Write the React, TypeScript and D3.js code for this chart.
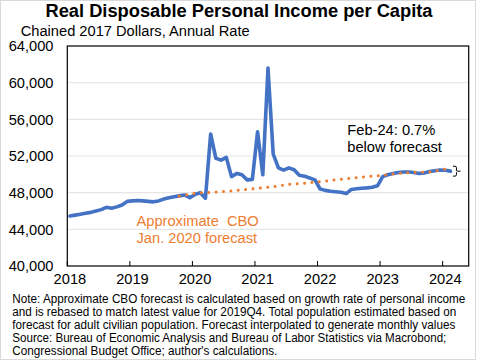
import React from "react";
import * as d3 from "d3";

// ---- data ----
const title = "Real Disposable Personal Income per Capita";
const subtitle = "Chained 2017 Dollars, Annual Rate";
const yTicks = [40000, 44000, 48000, 52000, 56000, 60000, 64000];
const yearLabels = ["2018", "2019", "2020", "2021", "2022", "2023", "2024"];

// monthly actual values, Jan 2018 .. Feb 2024
const actualValues = [
  45450, 45550, 45650, 45750, 45850, 46000, 46150, 46400, 46300, 46450, 46650, 47050,
  47100, 47150, 47100, 47050, 47000, 47100, 47300, 47450, 47550, 47650, 47750, 47450,
  47800, 48000, 47400, 54400, 51750, 51550, 51850, 49750, 50100, 49950, 49400, 49450,
  54650, 49950, 61600, 52200, 50700, 50450, 50700, 50500, 49900, 49800, 49600, 49400,
  48400, 48250, 48150, 48100, 48050, 47900, 48350, 48420, 48480, 48520, 48600, 48750,
  49750, 49950, 50080, 50200, 50250, 50250, 50200, 50100, 50150, 50300, 50400, 50480,
  50450, 50350,
];

// approximate CBO Jan. 2020 forecast (read at these months)
const forecastMonths = [
  "2019-10", "2020-01", "2020-04", "2020-07", "2020-10", "2021-01", "2021-04", "2021-07",
  "2021-10", "2022-01", "2022-04", "2022-07", "2022-10", "2023-01", "2023-04", "2023-07",
  "2023-10", "2024-01", "2024-02",
];
const forecastValues = [
  47600, 47950, 48020, 48140, 48300, 48470, 48650, 48900,
  49030, 49200, 49400, 49580, 49750, 49880, 50100, 50210,
  50260, 50560, 50720,
];

const forecastLabel = ["Approximate  CBO", "Jan. 2020 forecast"];
const annotation = ["Feb-24: 0.7%", "below forecast"];
const noteLines = [
  "Note: Approximate CBO forecast is calculated based on growth rate of personal income",
  "and is rebased to match latest value for 2019Q4. Total population estimated based on",
  "forecast for adult civilian population. Forecast interpolated to generate monthly values",
  "Source: Bureau of Economic Analysis and Bureau of Labor Statistics via Macrobond;",
  "Congressional Budget Office; author's calculations.",
];

// ---- layout ----
const W = 480;
const H = 363;
const plot = { left: 67.3, right: 468.7, top: 46, bottom: 266 };
const noteWidths = [453, 444, 443, 434, 265];
const FONT = "'Liberation Sans', Arial, sans-serif";
const BLUE = "#4472C4";
const ORANGE = "#ED7D31";

const fmtKey = d3.timeFormat("%Y-%m");
const months = d3.timeMonth.range(new Date(2018, 0, 1), new Date(2024, 5, 1)).map(fmtKey);

export default function App() {
  const x = d3.scaleBand<string>().domain(months).range([plot.left, plot.right]).padding(0);
  const bw = x.bandwidth();
  const cx = (k: string) => (x(k) as number) + bw / 2;
  const y = d3.scaleLinear().domain([40000, 64000]).range([plot.bottom, plot.top]);

  const actual = actualValues.map((v, i) => ({ k: months[i], v }));
  const forecast = forecastValues.map((v, i) => ({ k: forecastMonths[i], v }));

  const line = d3
    .line<{ k: string; v: number }>()
    .x((d) => cx(d.k))
    .y((d) => y(d.v));

  const yearTicks = yearLabels.map((yr) => `${yr}-01`);
  const lastA = actual[actual.length - 1];
  const lastF = forecast[forecast.length - 1];
  const bx = cx(lastA.k) + 2.5;
  const bTop = y(lastF.v) - 1.5;
  const bBot = y(lastA.v) + 5;

  return (
    <svg
      width={W}
      height={H}
      style={{ position: "absolute", left: 0, top: 0, background: "#fff" }}
      fontFamily={FONT}
    >
      <rect x={0.5} y={0.5} width={475} height={359} fill="#fff" stroke="#d9d9d9" />
      <text x={239} y={17.3} textAnchor="middle" fontSize={18.3} fontWeight="bold" fill="#000">
        {title}
      </text>
      <text x={20.7} y={35.7} fontSize={14.67} fill="#000">
        {subtitle}
      </text>

      {/* gridlines */}
      {yTicks.slice(1, -1).map((t) => (
        <line key={t} x1={plot.left} x2={plot.right} y1={y(t)} y2={y(t)} stroke="#e6e6e6" strokeWidth={1.2} />
      ))}
      {/* y labels */}
      {yTicks.map((t) => (
        <text key={t} x={53.5} y={y(t) + 5.2} textAnchor="end" fontSize={14.67} fill="#000">
          {d3.format(",")(t)}
        </text>
      ))}
      {/* x ticks & labels */}
      {yearTicks.map((k, i) => (
        <g key={k}>
          <line x1={x(k)} x2={x(k)} y1={plot.bottom} y2={plot.bottom - 5} stroke="#000" strokeWidth={1} />
          <text x={cx(k)} y={284} textAnchor="middle" fontSize={14.67} fill="#000">
            {yearLabels[i]}
          </text>
        </g>
      ))}

      {/* actual */}
      <path d={line(actual) || ""} fill="none" stroke={BLUE} strokeWidth={3.6} strokeLinejoin="round" strokeLinecap="round" />
      {/* forecast */}
      <path
        d={line(forecast) || ""}
        fill="none"
        stroke={ORANGE}
        strokeWidth={3}
        strokeDasharray="0.01 7.4"
        strokeLinecap="round"
      />

      {/* frame */}
      <rect
        x={plot.left}
        y={plot.top}
        width={plot.right - plot.left}
        height={plot.bottom - plot.top}
        fill="none"
        stroke="#000"
        strokeWidth={1.2}
      />

      {/* bracket */}
      <path
        d={`M${bx},${bTop} h2 q1.5,0 1.5,1.5 V${(bTop + bBot) / 2 - 1} q0,1 1,1 h3 M${bx + 3.5},${(bTop + bBot) / 2 + 1} V${bBot - 1.5} q0,1.5 -1.5,1.5 h-2 M${bx + 4.5},${(bTop + bBot) / 2} `}
        fill="none"
        stroke="#000"
        strokeWidth={1}
      />

      {/* annotation */}
      {annotation.map((s, i) => (
        <text key={s} x={347.3} y={135 + i * 16.7} fontSize={14.67} fill="#000">
          {s}
        </text>
      ))}
      {forecastLabel.map((s, i) => (
        <text key={s} x={136.5} y={226 + i * 16.7} fontSize={14.67} fill={ORANGE} style={{ whiteSpace: "pre" }}>
          {s}
        </text>
      ))}

      {/* note */}
      {noteLines.map((s, i) => (
        <text
          key={i}
          x={12.3}
          y={302.5 + i * 13.2}
          fontSize={12}
          fill="#000"
          textLength={noteWidths[i]}
          lengthAdjust="spacingAndGlyphs"
        >
          {s}
        </text>
      ))}
    </svg>
  );
}
